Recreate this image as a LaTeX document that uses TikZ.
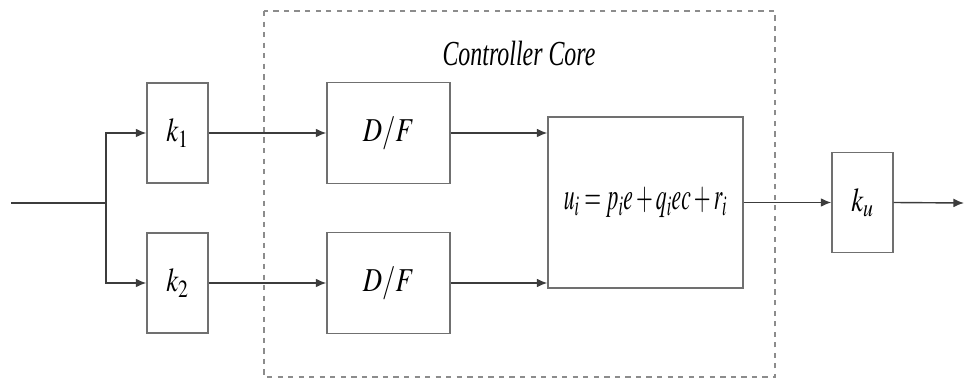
\documentclass[tikz,border=0pt]{standalone}
\usepackage{mathptmx}
\usepackage{fontspec}
\setmainfont{Liberation Serif}
\usepackage{graphicx}
\definecolor{sigline}{HTML}{3C3C3C}
\definecolor{blkborder}{HTML}{707070}
\definecolor{coredash}{HTML}{8C8C8C}
\usetikzlibrary{arrows.meta,positioning,calc}
\newcommand{\narrow}[2][0.8]{\scalebox{#1}[1]{#2}}

\begin{document}
\begin{tikzpicture}[x=0.02cm, y=-0.02cm,
  gain/.style={draw=blkborder, fill=white, line width=0.8pt,
               minimum width=1.22cm, minimum height=2cm, inner sep=0pt,
               font=\fontsize{19}{21}\selectfont},
  filt/.style={gain, minimum width=2.46cm, minimum height=2.02cm},
  rule/.style={gain, minimum width=3.9cm, minimum height=3.42cm,
               font=\fontsize{22}{24}\selectfont},
  sig/.style={draw=sigline, line width=0.8pt},
  arr/.style={sig, -{Latex[length=6pt,width=5pt]}}
]
\useasboundingbox (0,0) rectangle (964,378);

%% Controller core frame
\draw[draw=coredash, dashed, line width=0.7pt] (264,11) rectangle (775,377);
\node[font=\fontsize{20}{22}\selectfont\itshape] (title) at (519,53)
  {\narrow[0.68]{Controller Core}};

\node[gain] (k1) at (177.5,133) {\narrow{$k_1$}};
\node[gain] (k2) at (177.5,283) {\narrow{$k_2$}};
\node[filt] (df1) at (388.5,133) {\narrow{$D/F$}};
\node[filt] (df2) at (388.5,283) {\narrow{$D/F$}};
\node[rule] (core) at (645.5,202.5)
  {\narrow[0.56]{$u_i=p_ie+q_iec+r_i$}};
\node[gain] (ku) at (862.5,202.5) {\narrow{$k_u$}};

\coordinate (in) at (11,203);
\coordinate (split) at (106,203);
\coordinate (out) at (964,203);

\draw[sig] (in) -- (split);
\foreach \n in {k1,k2}
  \draw[arr] (split) |- (\n.west);
\draw[arr] (k1.east) -- (df1.west);
\draw[arr] (k2.east) -- (df2.west);
\foreach \n in {df1,df2}
  \draw[arr] (\n.east) -- (\n.east -| core.west);
\draw[arr] (core.east) -- (ku.west);
\draw[arr] (ku.east) -- (out);

\end{tikzpicture}
\end{document}
